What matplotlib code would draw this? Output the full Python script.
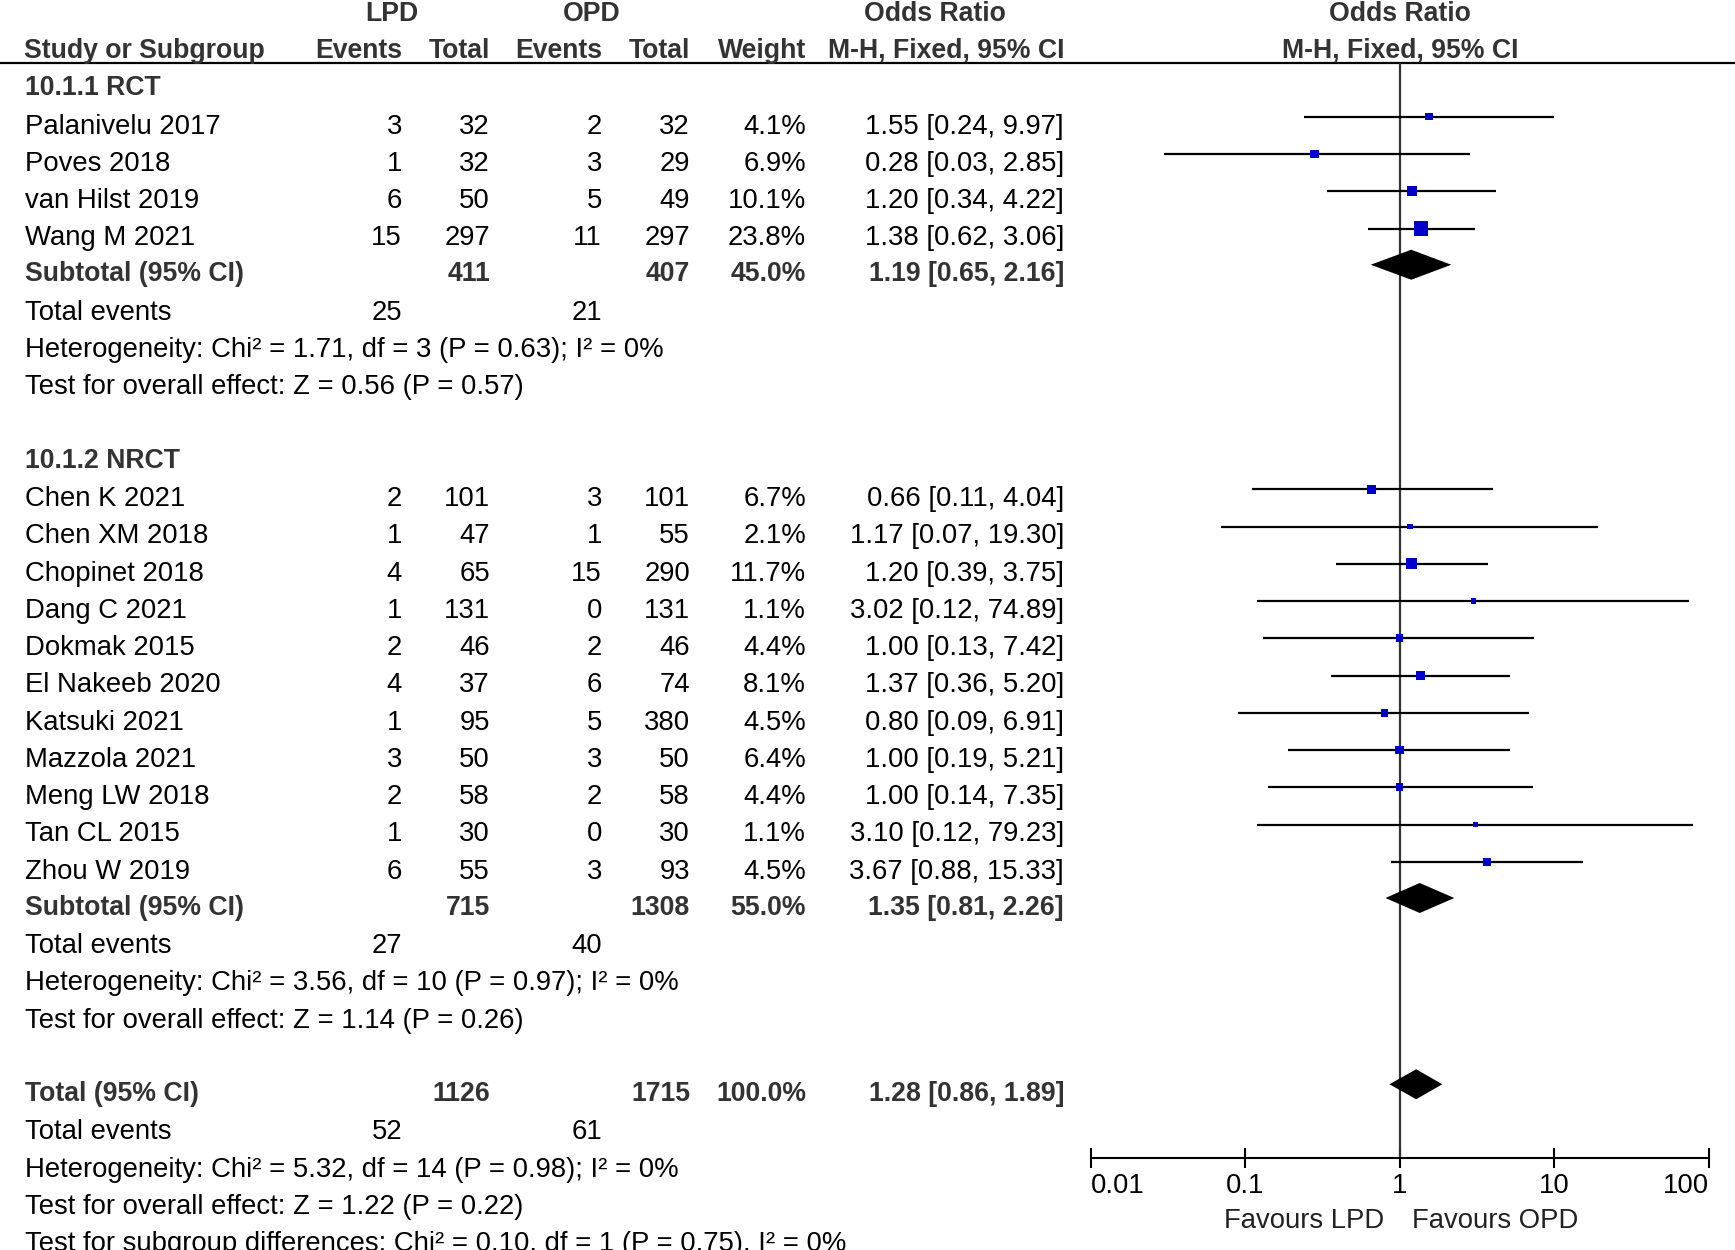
import numpy as np
import matplotlib
matplotlib.use('Agg')
import matplotlib.pyplot as plt
from matplotlib import ticker

plt.rcParams['font.family'] = ['Liberation Sans', 'DejaVu Sans']
plt.rcParams['font.size'] = 19.8

# ---- data ----
rct_names = ["Palanivelu 2017", "Poves 2018", "van Hilst 2019", "Wang M 2021"]
rct_lpd_ev = [3, 1, 6, 15]
rct_lpd_tot = [32, 32, 50, 297]
rct_opd_ev = [2, 3, 5, 11]
rct_opd_tot = [32, 29, 49, 297]
rct_weight = [4.1, 6.9, 10.1, 23.8]
rct_or = [1.55, 0.28, 1.20, 1.38]
rct_lo = [0.24, 0.03, 0.34, 0.62]
rct_hi = [9.97, 2.85, 4.22, 3.06]

nrct_names = ["Chen K 2021", "Chen XM 2018", "Chopinet 2018", "Dang C 2021",
              "Dokmak 2015", "El Nakeeb 2020", "Katsuki 2021", "Mazzola 2021",
              "Meng LW 2018", "Tan CL 2015", "Zhou W 2019"]
nrct_lpd_ev = [2, 1, 4, 1, 2, 4, 1, 3, 2, 1, 6]
nrct_lpd_tot = [101, 47, 65, 131, 46, 37, 95, 50, 58, 30, 55]
nrct_opd_ev = [3, 1, 15, 0, 2, 6, 5, 3, 2, 0, 3]
nrct_opd_tot = [101, 55, 290, 131, 46, 74, 380, 50, 58, 30, 93]
nrct_weight = [6.7, 2.1, 11.7, 1.1, 4.4, 8.1, 4.5, 6.4, 4.4, 1.1, 4.5]
nrct_or = [0.66, 1.17, 1.20, 3.02, 1.00, 1.37, 0.80, 1.00, 1.00, 3.10, 3.67]
nrct_lo = [0.11, 0.07, 0.39, 0.12, 0.13, 0.36, 0.09, 0.19, 0.14, 0.12, 0.88]
nrct_hi = [4.04, 19.30, 3.75, 74.89, 7.42, 5.20, 6.91, 5.21, 7.35, 79.23, 15.33]

# subtotal / total: lpd total, opd total, weight, or, lo, hi, lpd events, opd events
rct_sub = [411, 407, 45.0, 1.19, 0.65, 2.16, 25, 21]
nrct_sub = [715, 1308, 55.0, 1.35, 0.81, 2.26, 27, 40]
all_tot = [1126, 1715, 100.0, 1.28, 0.86, 1.89, 52, 61]

rct_het = "Heterogeneity: Chi² = 1.71, df = 3 (P = 0.63); I² = 0%"
rct_test = "Test for overall effect: Z = 0.56 (P = 0.57)"
nrct_het = "Heterogeneity: Chi² = 3.56, df = 10 (P = 0.97); I² = 0%"
nrct_test = "Test for overall effect: Z = 1.14 (P = 0.26)"
all_het = "Heterogeneity: Chi² = 5.32, df = 14 (P = 0.98); I² = 0%"
all_test = "Test for overall effect: Z = 1.22 (P = 0.22)"
sub_diff = "Test for subgroup differences: Chi² = 0.10, df = 1 (P = 0.75), I² = 0%"

tick_vals = [0.01, 0.1, 1, 10, 100]
tick_labels = ["0.01", "0.1", "1", "10", "100"]

# ---- layout ----
W, H = 1735, 1250
ROW0, STEP = 86.5, 37.25
X_NAME, X_LE, X_LT, X_OE, X_OT, X_W, X_CI = 25, 402, 490, 602, 690, 806, 1064
BOLD_C = '#333333'


def row_y(r):
    return ROW0 + r * STEP


fig = plt.figure(figsize=(W / 100, H / 100), dpi=100)
ax = fig.add_axes([0, 0, 1, 1])
ax.set_xlim(0, W)
ax.set_ylim(H, 0)
ax.axis('off')


def put(x, r, s, ha='left', bold=False):
    if bold:
        ax.text(x, row_y(r) + 8.6, s, ha=ha, va='baseline', fontweight='bold',
                fontsize=19.2, color=BOLD_C)
    else:
        ax.text(x, row_y(r) + 9.8, s, ha=ha, va='baseline', color='black')


def ci_text(o, l, h):
    return f"{o:.2f} [{l:.2f}, {h:.2f}]"


# header
put(392, -2, "LPD", 'center', True)
put(592, -2, "OPD", 'center', True)
put(935, -2, "Odds Ratio", 'center', True)
put(1400, -2, "Odds Ratio", 'center', True)
put(24, -1, "Study or Subgroup", 'left', True)
put(X_LE, -1, "Events", 'right', True)
put(X_LT, -1, "Total", 'right', True)
put(X_OE, -1, "Events", 'right', True)
put(X_OT, -1, "Total", 'right', True)
put(X_W, -1, "Weight", 'right', True)
put(X_CI, -1, "M-H, Fixed, 95% CI", 'right', True)
put(1400, -1, "M-H, Fixed, 95% CI", 'center', True)
ax.axhline(63, color='black', lw=1.6)

# forest axes
axf = fig.add_axes([1090.7 / W, 0, 617.8 / W, 1])
axf.set_xscale('log')
axf.set_xlim(0.01, 100)
axf.set_ylim(H, 0)
axf.patch.set_alpha(0)
for s in ['top', 'left', 'right']:
    axf.spines[s].set_visible(False)
axf.spines['bottom'].set_position(('data', 1158))
axf.spines['bottom'].set_linewidth(1.5)
axf.set_yticks([])
axf.xaxis.set_minor_locator(ticker.NullLocator())
axf.set_xticks(tick_vals, labels=tick_labels)
axf.tick_params(axis='x', direction='inout', length=14.4, width=1.5, pad=3.5,
                labelsize=19.8)
labs = axf.get_xticklabels()
labs[0].set_ha('left')
labs[-1].set_ha('right')
axf.vlines(1, 63, 1158, color='#333333', lw=1.6)
axf.annotate("Favours LPD", xy=(1, 1218 + 9.8), xytext=(-15, 0),
             textcoords='offset pixels', ha='right', va='baseline', color='#222222')
axf.annotate("Favours OPD", xy=(1, 1218 + 9.8), xytext=(12, 0),
             textcoords='offset pixels', ha='left', va='baseline', color='#222222')


def draw_group(r0, title, names, le, lt, oe, ot, w, orr, lo, hi, sub, het, test):
    put(X_NAME, r0, title, 'left', True)
    rows = []
    for i, n in enumerate(names):
        r = r0 + 1 + i
        rows.append(r)
        put(X_NAME, r, n)
        put(X_LE, r, str(le[i]), 'right')
        put(X_LT, r, str(lt[i]), 'right')
        put(X_OE, r, str(oe[i]), 'right')
        put(X_OT, r, str(ot[i]), 'right')
        put(X_W, r, f"{w[i]:.1f}%", 'right')
        put(X_CI, r, ci_text(orr[i], lo[i], hi[i]), 'right')
    ys = np.array([row_y(r) for r in rows]) - 7
    axf.hlines(ys, lo, hi, color='black', lw=1.6)
    side = 2.5 + 2.4 * np.sqrt(np.array(w))
    axf.scatter(orr, ys, marker='s', s=(side * 0.72) ** 2, color='#0000CC',
                linewidths=0, zorder=3)
    rs = r0 + 1 + len(names)
    summary_rows(rs, "Subtotal (95% CI)", sub, het, test)
    return rs + 4


def summary_rows(rs, label, sub, het, test):
    put(X_NAME, rs, label, 'left', True)
    put(X_LT, rs, str(sub[0]), 'right', True)
    put(X_OT, rs, str(sub[1]), 'right', True)
    put(X_W, rs, f"{sub[2]:.1f}%", 'right', True)
    put(X_CI, rs, ci_text(sub[3], sub[4], sub[5]), 'right', True)
    yd = row_y(rs) - 8
    axf.fill([sub[4], sub[3], sub[5], sub[3]], [yd, yd - 15, yd, yd + 15],
             color='black', lw=0, zorder=3)
    put(X_NAME, rs + 1, "Total events")
    put(X_LE, rs + 1, str(sub[6]), 'right')
    put(X_OE, rs + 1, str(sub[7]), 'right')
    put(X_NAME, rs + 2, het)
    put(X_NAME, rs + 3, test)


nxt = draw_group(0, "10.1.1 RCT", rct_names, rct_lpd_ev, rct_lpd_tot, rct_opd_ev,
                 rct_opd_tot, rct_weight, rct_or, rct_lo, rct_hi, rct_sub,
                 rct_het, rct_test)
nxt = draw_group(nxt + 1, "10.1.2 NRCT", nrct_names, nrct_lpd_ev, nrct_lpd_tot,
                 nrct_opd_ev, nrct_opd_tot, nrct_weight, nrct_or, nrct_lo, nrct_hi,
                 nrct_sub, nrct_het, nrct_test)
summary_rows(nxt + 1, "Total (95% CI)", all_tot, all_het, all_test)
put(X_NAME, nxt + 5, sub_diff)

fig.savefig('out.png', dpi=100)
